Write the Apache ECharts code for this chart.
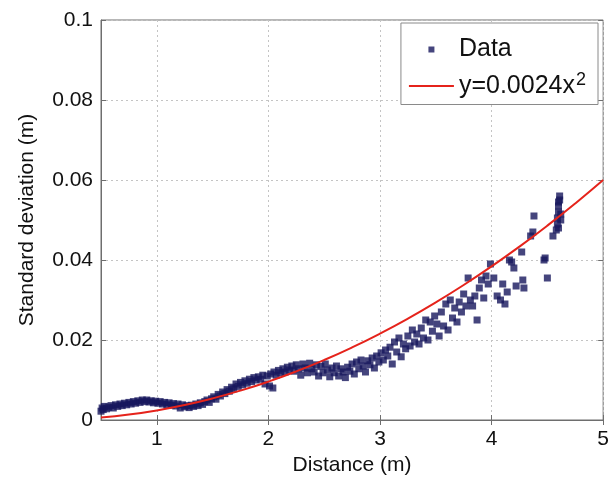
<!DOCTYPE html>
<html>
<head>
<meta charset="utf-8">
<script src="https://cdn.jsdelivr.net/npm/echarts@6/dist/echarts.min.js"></script>
<style>
html,body{margin:0;padding:0;background:#fff;}
#chart{width:612px;height:484px;}
</style>
</head>
<body>
<div id="chart"></div>
<script>
// measured std dev points [distance, std]
const dataPts = [
 [0.50,0.0022],[0.51,0.0030],[0.52,0.0026],[0.53,0.0034],[0.55,0.0028],[0.57,0.0032],[0.59,0.0036],[0.61,0.0030],[0.63,0.0038],[0.65,0.0034],
 [0.67,0.0040],[0.69,0.0036],[0.71,0.0042],[0.73,0.0038],[0.75,0.0044],[0.77,0.0040],[0.79,0.0046],[0.81,0.0042],[0.83,0.0048],[0.85,0.0044],
 [0.87,0.0050],[0.89,0.0046],[0.91,0.0050],[0.93,0.0045],[0.95,0.0048],[0.97,0.0043],[0.99,0.0047],
 [1.01,0.0042],[1.03,0.0046],[1.05,0.0040],[1.07,0.0044],[1.09,0.0038],[1.11,0.0043],[1.13,0.0037],[1.15,0.0041],[1.17,0.0035],[1.19,0.0040],
 [1.21,0.0030],[1.23,0.0038],[1.25,0.0033],[1.27,0.0036],[1.29,0.0031],[1.31,0.0037],[1.33,0.0034],[1.35,0.0040],[1.37,0.0036],[1.39,0.0043],
 [1.41,0.0039],[1.43,0.0046],[1.45,0.0050],[1.47,0.0044],[1.49,0.0053],
 [1.51,0.0058],[1.53,0.0052],[1.55,0.0064],[1.57,0.0060],[1.59,0.0070],[1.61,0.0066],[1.63,0.0076],[1.65,0.0072],[1.67,0.0082],[1.69,0.0078],
 [1.71,0.0090],[1.73,0.0084],[1.75,0.0094],[1.77,0.0088],[1.79,0.0098],[1.81,0.0092],[1.83,0.0102],[1.85,0.0096],[1.87,0.0106],[1.89,0.0100],
 [1.91,0.0108],[1.93,0.0102],[1.95,0.0112],[1.97,0.0090],[1.99,0.0110],
 [2.01,0.0085],[2.02,0.0115],[2.04,0.0080],[2.05,0.0120],[2.07,0.0112],[2.09,0.0124],[2.11,0.0118],[2.13,0.0128],[2.15,0.0120],[2.17,0.0132],
 [2.19,0.0125],[2.21,0.0135],[2.23,0.0122],[2.25,0.0138],[2.27,0.0128],[2.29,0.0112],[2.31,0.0140],[2.33,0.0130],[2.35,0.0118],[2.37,0.0142],
 [2.39,0.0128],[2.41,0.0120],[2.43,0.0138],[2.45,0.0110],[2.47,0.0134],[2.49,0.0118],
 [2.51,0.0140],[2.53,0.0125],[2.55,0.0108],[2.57,0.0130],[2.59,0.0118],[2.61,0.0135],[2.63,0.0110],[2.65,0.0128],[2.67,0.0120],[2.69,0.0106],
 [2.71,0.0132],[2.73,0.0122],[2.75,0.0140],[2.77,0.0115],[2.79,0.0145],[2.81,0.0128],[2.83,0.0150],[2.85,0.0135],[2.87,0.0120],[2.89,0.0148],
 [2.91,0.0138],[2.93,0.0155],[2.95,0.0130],[2.97,0.0160],[2.99,0.0145],
 [3.01,0.0168],[3.03,0.0150],[3.05,0.0175],[3.07,0.0160],[3.09,0.0182],[3.11,0.0140],[3.13,0.0195],[3.15,0.0170],[3.17,0.0205],[3.19,0.0158],
 [3.21,0.0190],[3.23,0.0178],[3.25,0.0210],[3.27,0.0185],[3.29,0.0225],[3.31,0.0195],[3.33,0.0215],[3.35,0.0190],[3.37,0.0230],[3.39,0.0205],
 [3.41,0.0250],[3.43,0.0200],[3.45,0.0245],[3.47,0.0222],[3.49,0.0260],
 [3.51,0.0240],[3.53,0.0210],[3.55,0.0270],[3.57,0.0235],[3.59,0.0290],[3.61,0.0225],[3.63,0.0300],[3.65,0.0255],[3.67,0.0280],[3.69,0.0245],
 [3.71,0.0295],[3.73,0.0270],[3.75,0.0315],[3.77,0.0285],[3.79,0.0355],[3.81,0.0300],[3.83,0.0285],[3.85,0.0310],[3.87,0.0250],[3.89,0.0330],
 [3.91,0.0350],[3.93,0.0305],[3.95,0.0360],[3.97,0.0340],[3.99,0.0390],
 [4.02,0.0355],[4.05,0.0310],[4.08,0.0300],[4.10,0.0340],[4.12,0.0290],[4.14,0.0320],[4.16,0.0400],[4.18,0.0395],[4.20,0.0380],[4.22,0.0335],
 [4.27,0.0420],[4.28,0.0350],[4.29,0.0330],[4.35,0.0460],[4.37,0.0470],[4.38,0.0510],[4.47,0.0400],[4.48,0.0405],[4.50,0.0355],[4.55,0.0460],
 [4.58,0.0475],[4.59,0.0490],[4.59,0.0505],[4.60,0.0520],[4.60,0.0535],[4.61,0.0550],[4.61,0.0560],[4.60,0.0480],[4.62,0.0500],[4.62,0.0515],[4.60,0.0545]
];

// fitted curve
const fitX = [0.5,0.75,1,1.25,1.5,1.75,2,2.25,2.5,2.75,3,3.25,3.5,3.75,4,4.25,4.5,4.75,5];
const fitY = [0.0006,0.00135,0.0024,0.00375,0.0054,0.00735,0.0096,0.01215,0.015,0.01815,0.0216,0.02535,0.0294,0.03375,0.0384,0.04335,0.0486,0.05415,0.06];

const xTicks = [1,2,3,4,5];
const fitName = 'y=0.0024x2';

const chart = echarts.init(document.getElementById('chart'));
const font = 'Liberation Sans, Arial, sans-serif';
const gridLine = {show:true, lineStyle:{color:'#c4c4c4', type:[2,3], width:1}};
const axisGray = '#6e6e6e';

const option = {
 animation:false,
 backgroundColor:'#fff',
 grid:{left:101, right:6, top:20, bottom:64, show:true, borderColor:axisGray, borderWidth:1},
 legend:{
  orient:'vertical', right:14, top:23,
  backgroundColor:'#fff', borderColor:'#8a8a8a', borderWidth:1,
  padding:[14,12,6,8], itemWidth:45, itemHeight:7, itemGap:9,
  textStyle:{fontFamily:font, fontSize:25, color:'#111',
   rich:{sup:{fontFamily:font, fontSize:18, color:'#111', verticalAlign:'top', padding:[0,0,12,1]}}},
  formatter: n => n === fitName ? 'y=0.0024x{sup|2}' : n,
  data:[
   {name:'Data', icon:'path://M0,0 M19.5,0.5 h6 v6 h-6 z M45,7'},
   {name:fitName, icon:'path://M0,0 M0,2.6 h45 v1.8 h-45 z M45,7'}
  ]
 },
 xAxis:[{
  type:'value', min:0.5, max:5,
  axisLine:{lineStyle:{color:axisGray}},
  axisTick:{inside:true, length:5, customValues:xTicks, lineStyle:{color:axisGray}},
  axisLabel:{customValues:xTicks, fontFamily:font, fontSize:21, color:'#111', margin:9},
  splitLine:gridLine,
  name:'Distance (m)', nameLocation:'middle', nameGap:35,
  nameTextStyle:{fontFamily:font, fontSize:21, color:'#111'}
 },{
  type:'value', min:0.5, max:5, position:'top',
  axisLine:{show:false},
  axisTick:{inside:true, length:5, customValues:xTicks, lineStyle:{color:axisGray}},
  axisLabel:{show:false}, splitLine:{show:false}
 }],
 yAxis:[{
  type:'value', min:0, max:0.1, interval:0.02,
  axisLine:{show:true, lineStyle:{color:axisGray}},
  axisTick:{show:true, inside:true, length:5, lineStyle:{color:axisGray}},
  axisLabel:{fontFamily:font, fontSize:21, color:'#111', margin:8},
  splitLine:gridLine,
  name:'Standard deviation (m)', nameLocation:'middle', nameGap:63,
  nameTextStyle:{fontFamily:font, fontSize:21, color:'#111'}
 },{
  type:'value', min:0, max:0.1, interval:0.02, position:'right',
  axisLine:{show:false},
  axisTick:{show:true, inside:true, length:5, lineStyle:{color:axisGray}},
  axisLabel:{show:false}, splitLine:{show:false}
 }],
 series:[{
  name:'Data', type:'scatter', symbol:'rect', symbolSize:7,
  itemStyle:{color:'#17175c'},
  data:dataPts
 },{
  name:fitName, type:'line', smooth:true, showSymbol:false, symbol:'none',
  lineStyle:{color:'#e5231b', width:2},
  itemStyle:{color:'#e5231b'},
  data:fitX.map((x,i)=>[x, fitY[i]])
 }]
};
chart.setOption(option);
</script>
</body>
</html>
